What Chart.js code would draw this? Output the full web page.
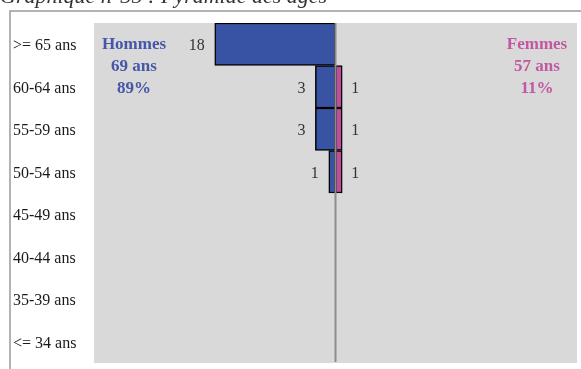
<!DOCTYPE html>
<html>
<head>
<meta charset="utf-8">
<script src="https://cdn.jsdelivr.net/npm/chart.js@4/dist/chart.umd.min.js"></script>
<style>
  html, body { margin: 0; padding: 0; background: #fff; }
  #pyramide { display: block; }
</style>
</head>
<body>
<canvas id="pyramide" width="581" height="369"></canvas>
<script>
// age groups, top to bottom
const ageGroups = [">= 65 ans", "60-64 ans", "55-59 ans", "50-54 ans", "45-49 ans", "40-44 ans", "35-39 ans", "<= 34 ans"];
const hommes = [18, 3, 3, 1, 0, 0, 0, 0];
const femmes = [0, 1, 1, 1, 0, 0, 0, 0];
const axisMax = 36;

const titre = "Graphique n°35 : Pyramide des âges";
const blocHommes = ["Hommes", "69 ans", "89%"];
const blocFemmes = ["Femmes", "57 ans", "11%"];

const bleu = "#3953a4";
const rose = "#bf4c9c";
const serif = "'Liberation Serif', 'DejaVu Serif', serif";

// frame, grey plot background, title
const fondPlugin = {
  id: "fond",
  beforeDraw(chart) {
    const { ctx, chartArea } = chart;
    ctx.save();
    ctx.fillStyle = "#d9d9d9";
    ctx.fillRect(chartArea.left, chartArea.top, chartArea.right - chartArea.left, chartArea.bottom - chartArea.top);
    ctx.strokeStyle = "#9a9a9a";
    ctx.lineWidth = 1.5;
    ctx.beginPath();
    ctx.moveTo(10, 369);
    ctx.lineTo(10, 11);
    ctx.lineTo(581, 11);
    ctx.stroke();
    ctx.fillStyle = "#333";
    ctx.font = "italic 22px " + serif;
    ctx.textBaseline = "alphabetic";
    ctx.fillText(titre, 0, 3);
    ctx.restore();
  }
};

// centre line, value labels, sex summaries
const etiquettesPlugin = {
  id: "etiquettes",
  afterDatasetsDraw(chart) {
    const { ctx, chartArea, scales } = chart;
    const x0 = scales.x.getPixelForValue(0);
    ctx.save();
    ctx.strokeStyle = "#8c8c8c";
    ctx.lineWidth = 2;
    ctx.beginPath();
    ctx.moveTo(x0, chartArea.top);
    ctx.lineTo(x0, chartArea.bottom - 1);
    ctx.stroke();

    ctx.font = "16px " + serif;
    ctx.fillStyle = "#333";
    ctx.textBaseline = "middle";
    chart.getDatasetMeta(0).data.forEach((bar, i) => {
      if (!hommes[i]) return;
      ctx.textAlign = "right";
      ctx.fillText(String(hommes[i]), bar.x - 10, bar.y + 2);
    });
    chart.getDatasetMeta(1).data.forEach((bar, i) => {
      if (!femmes[i]) return;
      ctx.textAlign = "left";
      ctx.fillText(String(femmes[i]), bar.x + 9, bar.y + 2);
    });

    ctx.font = "bold 17px " + serif;
    ctx.textAlign = "center";
    blocHommes.forEach((t, k) => {
      ctx.fillStyle = "#4457a8";
      ctx.fillText(t, 134, 45 + k * 22);
    });
    blocFemmes.forEach((t, k) => {
      ctx.fillStyle = "#c257a3";
      ctx.fillText(t, 537, 45 + k * 22);
    });
    ctx.restore();
  }
};

new Chart(document.getElementById("pyramide"), {
  type: "bar",
  data: {
    labels: ageGroups,
    datasets: [
      {
        label: "Hommes",
        data: hommes.map((v) => (v ? -v : null)),
        backgroundColor: bleu,
        borderColor: "#000",
        borderWidth: 1.5,
        borderSkipped: false,
        barPercentage: 1,
        categoryPercentage: 1
      },
      {
        label: "Femmes",
        data: femmes.map((v) => (v ? v : null)),
        backgroundColor: rose,
        borderColor: "#000",
        borderWidth: 1.5,
        borderSkipped: false,
        barPercentage: 1,
        categoryPercentage: 1
      }
    ]
  },
  options: {
    indexAxis: "y",
    responsive: false,
    animation: false,
    layout: { padding: { left: 13, top: 23, right: 4, bottom: 6 } },
    scales: {
      x: { display: false, stacked: true, min: -axisMax, max: axisMax },
      y: {
        stacked: true,
        grid: { display: false, drawTicks: false },
        border: { display: false },
        ticks: {
          crossAlign: "far",
          padding: 18,
          labelOffset: 2,
          color: "#1a1a1a",
          font: { family: serif, size: 16 }
        },
        afterFit(scale) {
          // fixed label column, no extra room above/below the rows
          scale.width = 81;
          scale.paddingTop = 0;
          scale.paddingBottom = 0;
        }
      }
    },
    plugins: {
      legend: { display: false },
      tooltip: { enabled: false }
    }
  },
  plugins: [fondPlugin, etiquettesPlugin]
});
</script>
</body>
</html>
